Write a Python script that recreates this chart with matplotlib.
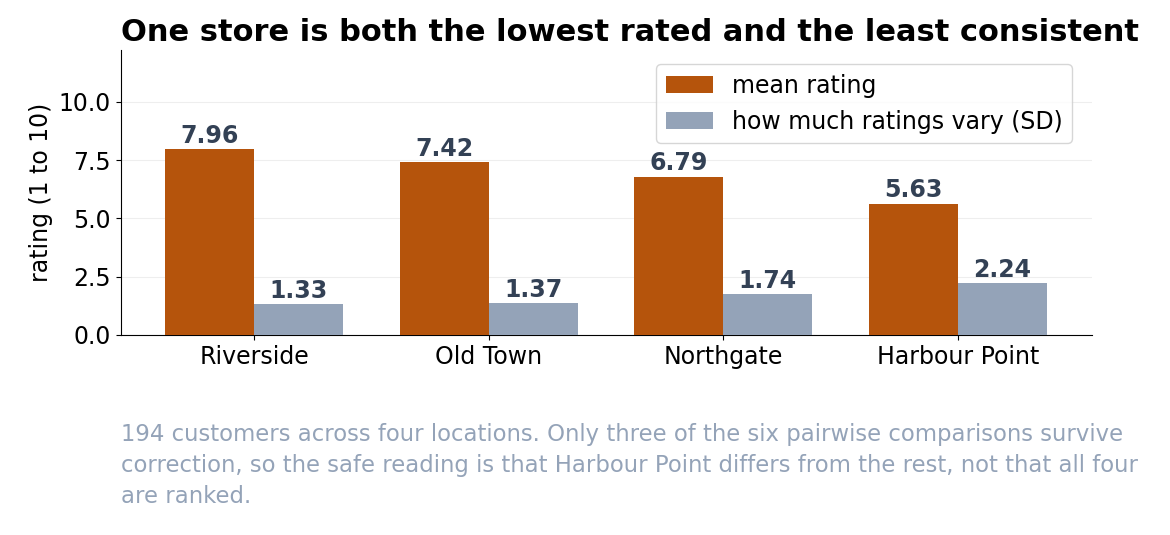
import matplotlib
matplotlib.use("Agg")
import matplotlib.pyplot as plt
import numpy as np

stores = ["Riverside", "Old Town", "Northgate", "Harbour Point"]
mean_rating = [7.96, 7.42, 6.79, 5.63]
sd_rating = [1.33, 1.37, 1.74, 2.24]
yticks = [0.0, 2.5, 5.0, 7.5, 10.0]

fig = plt.figure(figsize=(11.7, 5.35), dpi=100)
ax = fig.add_axes([0.103, 0.374, 0.83, 0.533])
x = np.arange(len(stores))
w = 0.38
b1 = ax.bar(x - w/2, mean_rating, w, color="#b5540c", label="mean rating", zorder=3)
b2 = ax.bar(x + w/2, sd_rating, w, color="#94a3b8", label="how much ratings vary (SD)", zorder=3)
for bars, vals in ((b1, mean_rating), (b2, sd_rating)):
    for r, v in zip(bars, vals):
        ax.text(r.get_x() + r.get_width()/2, v + 0.05, f"{v:.2f}", ha="center", va="bottom",
                fontsize=17, fontweight="bold", color="#334155")
ax.set_ylim(0, 12.23)
ax.set_xlim(-0.57, 3.57)
ax.set_yticks(yticks)
ax.set_yticklabels([f"{t:.1f}" for t in yticks])
ax.set_xticks(x)
ax.set_xticklabels(stores)
ax.tick_params(labelsize=17)
ax.set_ylabel("rating (1 to 10)", fontsize=17)
ax.grid(axis="y", color="#eeeeee", zorder=0)
ax.spines["top"].set_visible(False)
ax.spines["right"].set_visible(False)
ax.legend(fontsize=17, loc="upper right", frameon=True, borderpad=0.4,
          bbox_to_anchor=(0.992, 0.99))
ax.set_title("One store is both the lowest rated and the least consistent", loc="left",
             fontsize=22, fontweight="bold", pad=6)
fig.text(0.103, 0.21,
         "194 customers across four locations. Only three of the six pairwise comparisons survive\n"
         "correction, so the safe reading is that Harbour Point differs from the rest, not that all four\n"
         "are ranked.", fontsize=16.4, color="#94a3b8", va="top", linespacing=1.45)
fig.savefig("out.png", dpi=100)
